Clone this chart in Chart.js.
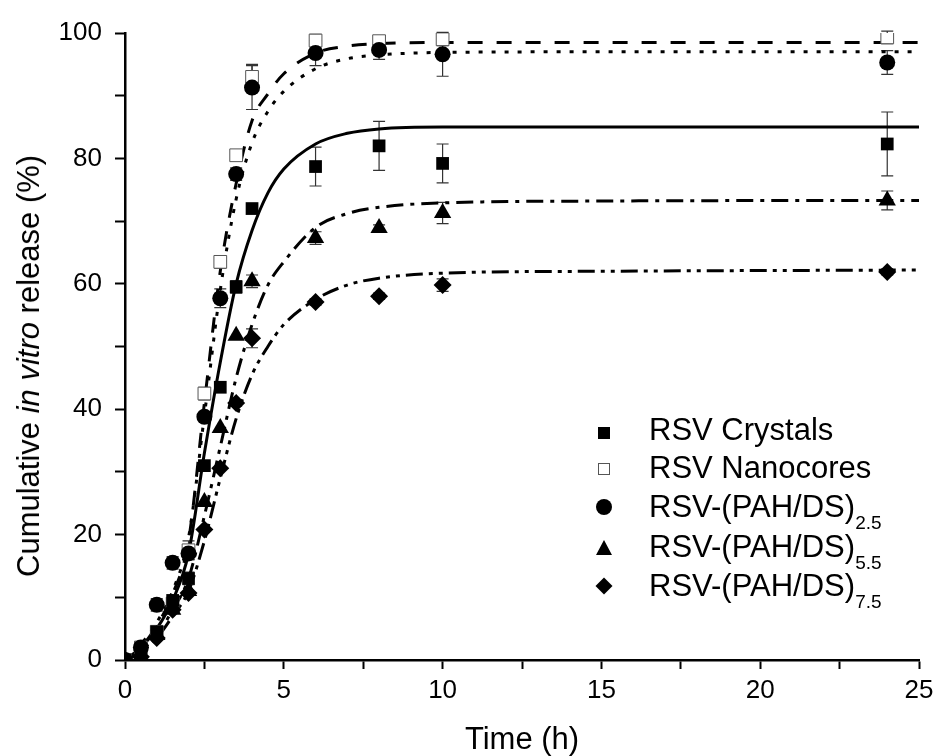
<!DOCTYPE html>
<html lang="en">
<head>
    <meta charset="UTF-8">
    <title>Cumulative in vitro release</title>
    <script src="https://cdn.jsdelivr.net/npm/chart.js@4.4.0/dist/chart.umd.min.js"></script>
    <style>
        body {
            margin: 0;
            background: #fff;
            font-family: "Liberation Sans", Arial, sans-serif;
            color: #000;
        }
        #wrap {
            position: relative;
            width: 933px;
            height: 756px;
        }
        #yTitle {
            position: absolute;
            left: 29px;
            top: 366px;
            transform: translate(-50%, -50%) rotate(-90deg);
            white-space: nowrap;
            font-size: 31px;
        }
        .row {
            position: absolute;
            left: 649px;
            height: 40px;
            line-height: 40px;
            font-size: 31px;
            white-space: nowrap;
        }
        .row .sub {
            font-size: 19px;
            vertical-align: -12px;
        }
        .mk {
            position: absolute;
            box-sizing: border-box;
        }
    </style>
</head>
<body>
<div id="wrap">
    <canvas id="releaseChart" width="933" height="756"></canvas>
    <div id="yTitle">Cumulative <i>in vitro</i> release (%)</div>

    <!-- legend markers -->
    <div class="mk" style="left:598px; top:427px; width:12px; height:12px; background:#000;"></div>
    <div class="mk" style="left:598px; top:463px; width:12px; height:12px; background:#fff; border:1px solid #555;"></div>
    <div class="mk" style="left:596px; top:499px; width:16px; height:16px; background:#000; border-radius:50%;"></div>
    <div class="mk" style="left:596px; top:540px; width:0; height:0; border-left:8px solid transparent; border-right:8px solid transparent; border-bottom:15px solid #000;"></div>
    <div class="mk" style="left:598px; top:580px; width:12px; height:12px; background:#000; transform:rotate(45deg);"></div>

    <!-- legend texts -->
    <div class="row" style="top:410px;">RSV Crystals</div>
    <div class="row" style="top:448px;">RSV Nanocores</div>
    <div class="row" style="top:487px;">RSV-(PAH/DS)<span class="sub">2.5</span></div>
    <div class="row" style="top:527px;">RSV-(PAH/DS)<span class="sub">5.5</span></div>
    <div class="row" style="top:566px;">RSV-(PAH/DS)<span class="sub">7.5</span></div>
</div>

<script>
    // Measured release (%) at each sampling time (h)
    const times = [0, 0.5, 1, 1.5, 2, 2.5, 3, 3.5, 4, 6, 8, 10, 24];
    const crystals  = [0, 1.5, 4.5, 9.5, 13, 31, 43.5, 59.5, 72, 78.7, 82, 79.2, 82.3];
    const nanocores = [0, 2, 4.5, 9, 17.5, 42.5, 63.5, 80.5, 93, 98.8, 98.7, 99, 99.3];
    const pah25     = [0, 2, 8.8, 15.5, 17, 38.8, 57.7, 77.5, 91.3, 96.8, 97.3, 96.6, 95.3];
    const pah55     = [0, 0.5, 4, 8, 11, 25.2, 37, 51.7, 60.4, 67.3, 68.9, 71.3, 73.3];
    const pah75     = [0, 0.5, 3.5, 8, 10.7, 20.8, 30.6, 41, 51.3, 57.1, 58, 59.8, 61.9];

    // Error bars (+/- %)
    const crystalsErr  = [0, 0, 0, 0, 1, 0, 0, 1, 0.5, 3.1, 3.9, 3.1, 5.1];
    const nanocoresErr = [0, 0, 0, 0, 1.5, 1, 1, 0.5, 2, 1, 0.5, 1, 1];
    const pah25Err     = [0, 0, 1, 1, 1, 0.5, 1.5, 1, 3.5, 2, 1.5, 3.5, 1.9];
    const pah55Err     = [0, 0, 0, 0, 0, 0, 0, 0, 1, 1, 0.5, 1.7, 1.5];
    const pah75Err     = [0, 0, 0, 0, 0, 0, 0, 0.5, 1.5, 0.5, 0.5, 1, 0.5];

    // Fitted curves
    const fitTimes       = [0, 0.5, 1, 1.5, 2, 2.5, 3, 3.5, 4, 4.5, 5, 6, 7, 8, 10, 15, 25];
    const fitCrystals    = [0, 2, 5, 9.5, 17, 33, 47.5, 60, 68.5, 74.5, 78.3, 82.3, 84, 84.7, 85, 85, 85];
    const fitNanocores   = [0, 2, 5.5, 10.5, 19, 41, 62, 76, 86, 90.3, 93.5, 96.8, 97.9, 98.3, 98.5, 98.5, 98.5];
    const fitPah25       = [0, 2.5, 6, 11, 19.5, 39, 59, 73.5, 82.5, 87.5, 90.7, 94.3, 95.9, 96.5, 96.9, 97, 97];
    const fitPah55       = [0, 1.5, 4, 8, 13, 23, 34, 45, 53.5, 59.8, 63.5, 69, 71.2, 72.2, 72.9, 73.2, 73.3];
    const fitPah75       = [0, 1.3, 3.5, 7, 11, 19, 29, 38.5, 45.5, 50, 53.5, 57.5, 59.8, 60.9, 61.7, 62, 62.2];

    const toXY = (xs, ys) => xs.map((x, i) => ({ x: x, y: ys[i] }));

    const pointSet = (label, ys, errs, style, radius, fill, order) => ({
        type: 'scatter',
        label: label,
        data: toXY(times, ys),
        errors: errs,
        pointStyle: style,
        pointRadius: radius,
        backgroundColor: fill,
        borderColor: fill === '#fff' ? '#555' : '#000',
        borderWidth: fill === '#fff' ? 1 : 0,
        order: order
    });

    const curveSet = (ys, dash) => ({
        type: 'line',
        data: toXY(fitTimes, ys),
        borderColor: '#000',
        borderWidth: 3,
        borderDash: dash,
        pointRadius: 0,
        fill: false,
        cubicInterpolationMode: 'monotone',
        order: 10
    });

    // Draw vertical error bars with caps under the markers
    const errorBars = {
        id: 'errorBars',
        beforeDatasetsDraw(chart) {
            const ctx = chart.ctx;
            const xs = chart.scales.x, ys = chart.scales.y;
            ctx.save();
            ctx.strokeStyle = '#333';
            ctx.lineWidth = 1.2;
            chart.data.datasets.forEach(ds => {
                if (!ds.errors) return;
                ds.data.forEach((p, i) => {
                    const e = ds.errors[i];
                    if (!e) return;
                    const px = xs.getPixelForValue(p.x);
                    const top = ys.getPixelForValue(p.y + e);
                    const bot = ys.getPixelForValue(p.y - e);
                    ctx.beginPath();
                    ctx.moveTo(px, top); ctx.lineTo(px, bot);
                    ctx.moveTo(px - 6, top); ctx.lineTo(px + 6, top);
                    ctx.moveTo(px - 6, bot); ctx.lineTo(px + 6, bot);
                    ctx.stroke();
                });
            });
            ctx.restore();
        }
    };

    const ctx = document.getElementById('releaseChart').getContext('2d');
    new Chart(ctx, {
        data: {
            datasets: [
                pointSet('RSV-(PAH/DS)2.5', pah25, pah25Err, 'circle', 8, '#000', 1),
                pointSet('RSV Crystals', crystals, crystalsErr, 'rect', 9, '#000', 2),
                pointSet('RSV-(PAH/DS)5.5', pah55, pah55Err, 'triangle', 10, '#000', 3),
                pointSet('RSV-(PAH/DS)7.5', pah75, pah75Err, 'rectRot', 9, '#000', 4),
                pointSet('RSV Nanocores', nanocores, nanocoresErr, 'rect', 9, '#fff', 5),
                curveSet(fitCrystals, []),
                curveSet(fitNanocores, [15, 14]),
                curveSet(fitPah25, [4, 9]),
                curveSet(fitPah55, [17, 7, 4, 7]),
                curveSet(fitPah75, [17, 6, 4, 6, 4, 6])
            ]
        },
        options: {
            responsive: false,
            animation: false,
            layout: {
                padding: { left: 0, right: 0, top: 33, bottom: 0 }
            },
            plugins: {
                legend: { display: false },
                tooltip: { enabled: false }
            },
            scales: {
                x: {
                    type: 'linear',
                    min: 0,
                    max: 25,
                    afterFit: s => {
                        s.height = 96;
                        s.paddingRight = 14;
                        s.paddingLeft = 0;
                    },
                    grid: { drawOnChartArea: false, tickLength: 9, tickWidth: 2, tickColor: '#000' },
                    border: { color: '#000', width: 2.5 },
                    ticks: {
                        stepSize: 2.5,
                        padding: 6,
                        color: '#000',
                        maxRotation: 0,
                        font: { family: '"Liberation Sans", Arial', size: 26 },
                        callback: v => (v % 5 === 0 ? v : '')
                    },
                    title: {
                        display: true,
                        text: 'Time (h)',
                        color: '#000',
                        font: { family: '"Liberation Sans", Arial', size: 31 },
                        padding: { top: 0, bottom: -3 }
                    }
                },
                y: {
                    type: 'linear',
                    min: 0,
                    max: 100,
                    afterFit: s => { s.width = 125; },
                    grid: { drawOnChartArea: false, tickLength: 10, tickWidth: 2, tickColor: '#000' },
                    border: { color: '#000', width: 2.5 },
                    ticks: {
                        stepSize: 10,
                        padding: 13,
                        color: '#000',
                        font: { family: '"Liberation Sans", Arial', size: 26 },
                        callback: v => (v % 20 === 0 ? v : '')
                    }
                }
            }
        },
        plugins: [errorBars]
    });
</script>
</body>
</html>
